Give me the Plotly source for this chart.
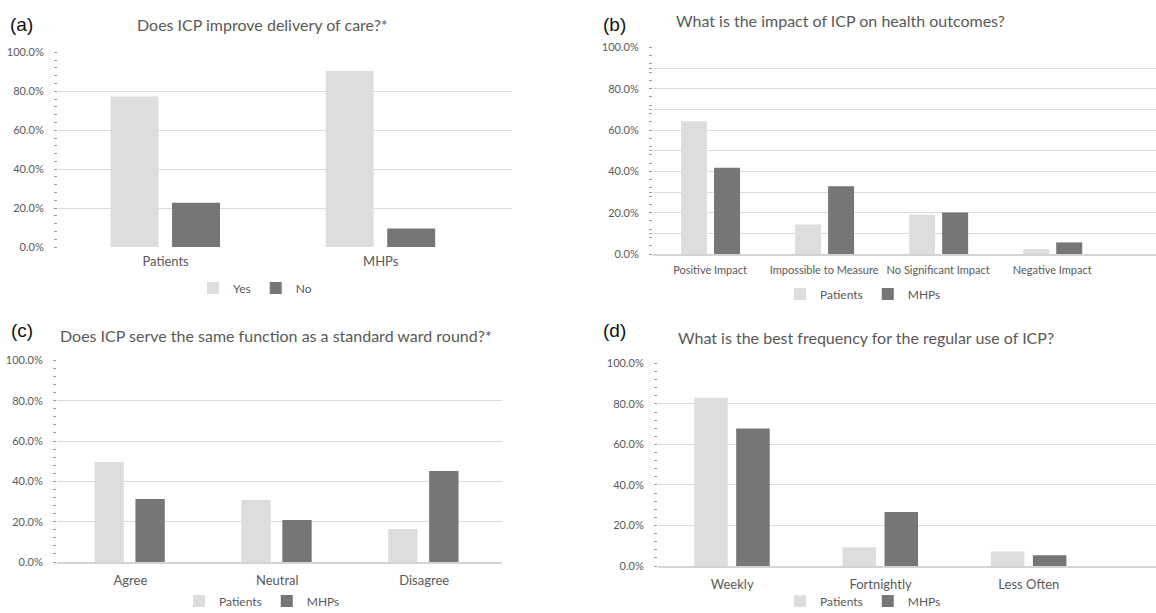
import plotly.graph_objects as go

W, H = 1156, 613

# ---------------- data ----------------
a_categories = ["Patients", "MHPs"]
a_yes = [0.773, 0.905]
a_no = [0.227, 0.095]

b_categories = ["Positive Impact", "Impossible to Measure", "No Significant Impact", "Negative Impact"]
b_patients = [0.643, 0.143, 0.190, 0.024]
b_mhps = [0.418, 0.328, 0.201, 0.056]

c_categories = ["Agree", "Neutral", "Disagree"]
c_patients = [0.496, 0.307, 0.164]
c_mhps = [0.312, 0.208, 0.451]

d_categories = ["Weekly", "Fortnightly", "Less Often"]
d_patients = [0.830, 0.092, 0.071]
d_mhps = [0.679, 0.267, 0.053]

y_tickvals = [0, 0.2, 0.4, 0.6, 0.8, 1.0]
y_ticktext = ["0.0%", "20.0%", "40.0%", "60.0%", "80.0%", "100.0%"]
b_tickvals = [0, 0.1, 0.2, 0.3, 0.4, 0.5, 0.6, 0.7, 0.8, 0.9, 1.0]
b_ticktext = ["0.0%", "", "20.0%", "", "40.0%", "", "60.0%", "", "80.0%", "", "100.0%"]

titles = [
    "Does ICP improve delivery of care?*",
    "What is the impact of ICP on health outcomes?",
    "Does ICP serve the same function as a standard ward round?*",
    "What is the best frequency for the regular use of ICP?",
]
panel_labels = ["(a)", "(b)", "(c)", "(d)"]

LIGHT = "#dcddde"
DARK = "#767677"
TXT = "#595959"
GRID = "#dadada"
FONT = "Lato"


def px_x(x):
    return x / W


def px_y(y):
    return 1 - y / H


panels = [
    dict(cats=a_categories, s1=a_yes, s2=a_no, n1="Yes", n2="No",
         xd=(58, 512), xr=[-0.5, 1.61], yd=(52, 247), legend="legend", leg=(255, 288),
         title=(135, 25), lab=(21, 25), tv=y_tickvals, tt=y_ticktext, base=False, xfs=13,
         bw=0.223, o1=-0.256, o2=0.030),
    dict(cats=b_categories, s1=b_patients, s2=b_mhps, n1="Patients", n2="MHPs",
         xd=(653, 1156), xr=[-0.5, 3.91], yd=(47, 254), legend="legend2", leg=(863, 294),
         title=(674, 20), lab=(614, 25), tv=b_tickvals, tt=b_ticktext, base=True, xfs=11,
         bw=0.228, o1=-0.254, o2=0.035),
    dict(cats=c_categories, s1=c_patients, s2=c_mhps, n1="Patients", n2="MHPs",
         xd=(57, 502), xr=[-0.5, 2.53], yd=(360, 562), legend="legend3", leg=(262, 601),
         title=(58, 335), lab=(22, 330), tv=y_tickvals, tt=y_ticktext, base=True, xfs=13,
         bw=0.200, o1=-0.245, o2=0.034),
    dict(cats=d_categories, s1=d_patients, s2=d_mhps, n1="Patients", n2="MHPs",
         xd=(658, 1156), xr=[-0.5, 2.857], yd=(363, 566), legend="legend4", leg=(863, 601),
         title=(676, 337), lab=(614, 330), tv=y_tickvals, tt=y_ticktext, base=True, xfs=13,
         bw=0.226, o1=-0.256, o2=0.027),
]

fig = go.Figure()
layout = dict(
    width=W, height=H,
    margin=dict(l=0, r=0, t=0, b=0, autoexpand=False),
    paper_bgcolor="white", plot_bgcolor="white",
    barmode="group",
    font=dict(family=FONT, color=TXT),
    annotations=[],
)

for i, p in enumerate(panels):
    k = "" if i == 0 else str(i + 1)
    xa, ya = "x" + k, "y" + k
    fig.add_trace(go.Bar(x=p["cats"], y=p["s1"], name=p["n1"], marker_color=LIGHT,
                         width=p["bw"], offset=p["o1"],
                         marker_line_width=0, xaxis=xa, yaxis=ya, legend=p["legend"]))
    fig.add_trace(go.Bar(x=p["cats"], y=p["s2"], name=p["n2"], marker_color=DARK,
                         width=p["bw"], offset=p["o2"],
                         marker_line_width=0, xaxis=xa, yaxis=ya, legend=p["legend"]))
    layout["xaxis" + k] = dict(
        domain=[px_x(p["xd"][0]), px_x(p["xd"][1])], anchor=ya, range=p["xr"],
        showgrid=False, zeroline=False, showline=p["base"], linecolor="#d4d4d4", linewidth=2,
        ticks="", tickangle=0, tickfont=dict(size=p["xfs"], color=TXT),
        ticklabelstandoff=5, fixedrange=True,
    )
    layout["yaxis" + k] = dict(
        domain=[px_y(p["yd"][1]), px_y(p["yd"][0])], anchor=xa,
        range=[0, 1.002], tickmode="array", tickvals=p["tv"], ticktext=p["tt"],
        showgrid=True, gridcolor=GRID, gridwidth=1, zeroline=False, showline=False,
        ticks="outside", ticklen=3, tickcolor="#9a9a9a", tickwidth=1,
        tickfont=dict(size=11, color=TXT), ticklabelstandoff=8,
        minor=dict(tickmode="linear", tick0=0, dtick=0.04, ticks="outside", ticklen=3,
                   tickcolor="#9a9a9a", tickwidth=1, showgrid=False),
    )
    layout[p["legend"]] = dict(
        orientation="h", x=px_x(p["leg"][0]), y=px_y(p["leg"][1]),
        xanchor="center", yanchor="middle", xref="paper", yref="paper",
        font=dict(size=12, color=TXT), itemwidth=30, bgcolor="rgba(0,0,0,0)",
        tracegroupgap=0, itemclick=False,
    )
    layout["annotations"].append(dict(
        text=titles[i], x=px_x(p["title"][0]), y=px_y(p["title"][1]),
        xref="paper", yref="paper", xanchor="left", yanchor="middle",
        showarrow=False, font=dict(size=16, color=TXT, family=FONT)))
    layout["annotations"].append(dict(
        text=panel_labels[i], x=px_x(p["lab"][0]), y=px_y(p["lab"][1]),
        xref="paper", yref="paper", xanchor="center", yanchor="middle",
        showarrow=False, font=dict(size=19, color="#111111", family="Liberation Sans")))

fig.update_layout(**layout)
fig.write_html("out.html")
